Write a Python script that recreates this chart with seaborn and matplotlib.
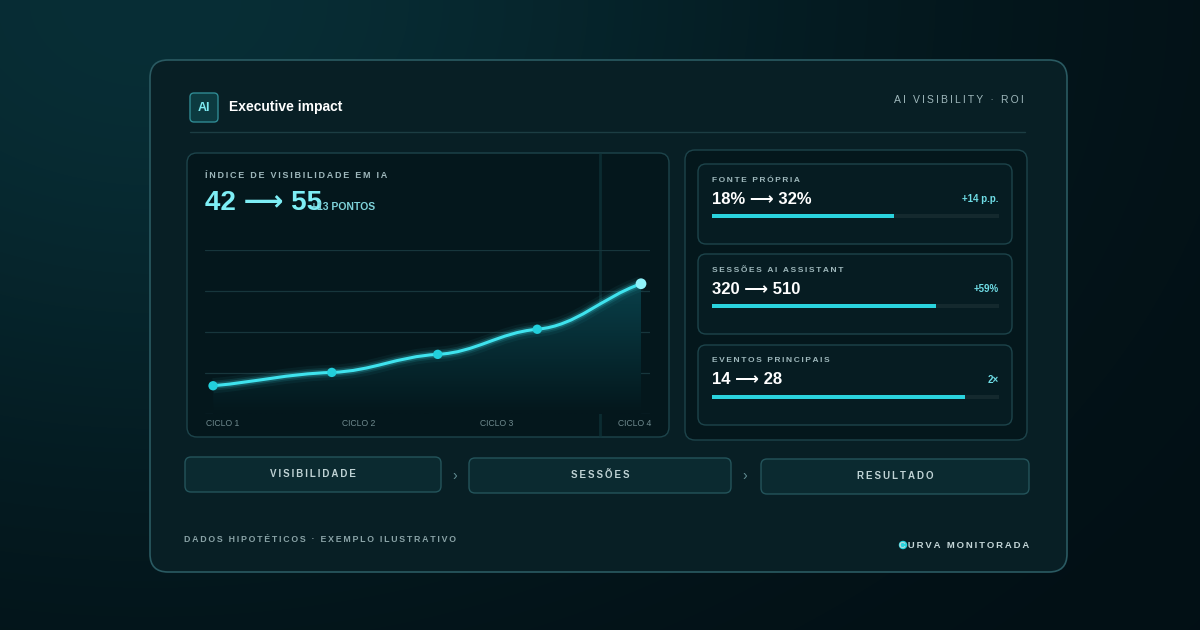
import numpy as np
import matplotlib
matplotlib.use("Agg")
import matplotlib.pyplot as plt
import seaborn as sns
from matplotlib.patches import FancyBboxPatch, Circle
from matplotlib.path import Path
from matplotlib.patches import PathPatch

sns.set_theme(style="dark")
plt.rcParams['font.family'] = ['Liberation Sans', 'DejaVu Sans']

# data
cycle_x = [0, 1.11, 2.1, 3.03, 4]
visibility = [42, 43.7, 46.0, 49.2, 55]
cycle_labels = ["CICLO 1", "CICLO 2", "CICLO 3", "CICLO 4"]
kpi_names = ["FONTE PRÓPRIA", "SESSÕES AI ASSISTANT", "EVENTOS PRINCIPAIS"]
kpi_values = ["18% ⟶ 32%", "320 ⟶ 510", "14 ⟶ 28"]
kpi_deltas = ["+14 p.p.", "+59%", "2×"]
kpi_progress = [0.634, 0.78, 0.88]
steps = ["VISIBILIDADE", "SESSÕES", "RESULTADO"]

CYAN = "#3fe3ee"
TXT = "#9fb8bc"
EDGE = "#1d444b"
ARROWFONT = ['Liberation Sans', 'DejaVu Sans']


def spaced(s):
    return "\u2009".join(s)


fig = plt.figure(figsize=(12, 6.3), dpi=100)
bg = fig.add_axes([0, 0, 1, 1])
bg.set_xlim(0, 1200)
bg.set_ylim(630, 0)
bg.axis("off")

# background gradient
yy, xx = np.mgrid[0:630, 0:1200]
g = np.exp(-(((xx - 150) / 700) ** 2 + ((yy - 0) / 500) ** 2))
img = np.zeros((630, 1200, 3))
img[..., 0] = 0.01 + 0.02 * g
img[..., 1] = 0.06 + 0.12 * g
img[..., 2] = 0.08 + 0.13 * g
bg.imshow(img, extent=[0, 1200, 630, 0], zorder=0)


def box(x0, y0, x1, y1, fc, ec=EDGE, r=10, lw=1.0, z=1):
    p = FancyBboxPatch((x0, y0), x1 - x0, y1 - y0, boxstyle=f"round,pad=0,rounding_size={r}",
                       fc=fc, ec=ec, lw=lw, zorder=z)
    bg.add_patch(p)


box(150, 60, 1067, 572, "#081f25", ec="#2a5a62", r=18, lw=1.2)
box(190, 93, 218, 122, "#0c3a40", ec="#2f8a93", r=4, z=2)
bg.text(204, 108, "AI", color="#7eeaf2", fontsize=9, fontweight="bold", ha="center", va="center", zorder=3)
bg.text(229, 107, "Executive impact", color="white", fontsize=10, fontweight="bold", va="center", zorder=3)
bg.text(1024, 100, spaced("AI VISIBILITY · ROI"), color=TXT, fontsize=7.5, ha="right", va="center", zorder=3)
bg.plot([190, 1025], [132, 132], color="#1c3d43", lw=1, zorder=2)

# chart panel
box(187, 153, 669, 437, "#04171c", z=2)
bg.plot([600, 600], [154, 436], color="#0f343a", lw=2, alpha=0.7, zorder=2)
bg.text(205, 176, spaced("ÍNDICE DE VISIBILIDADE EM IA"), color=TXT, fontsize=6.5, fontweight="bold", va="center", zorder=3)
bg.text(205, 203, "42 ⟶ 55", color="#7eeef5", fontsize=20, fontweight="bold", va="center", zorder=3,
        family=ARROWFONT)
bg.text(311, 207, "+13 PONTOS", color="#7fd3da", fontsize=7.5, fontweight="bold", va="center", zorder=3)
for lab, px in zip(cycle_labels, [206, 342, 480, 618]):
    bg.text(px, 424, lab, color="#6f8a8e", fontsize=6.2, va="center", zorder=3)

ax = fig.add_axes([205 / 1200, (630 - 414) / 630, 445 / 1200, 164 / 630])
ax.set_facecolor("none")
ax.set_xlim(-0.075, 4.084)
ax.set_ylim(38.4, 59.3)
for gy in np.linspace(38.4, 59.3, 5):
    ax.axhline(gy, color="#17363c", lw=0.9, zorder=1)
ax.set_xticks([])
ax.set_yticks([])
for s in ax.spines.values():
    s.set_visible(False)

# smooth bezier through the points, flattened tangents at the points
verts = [(cycle_x[0], visibility[0])]
codes = [Path.MOVETO]
n = len(cycle_x)
def slope(i):
    a, b = max(i - 1, 0), min(i + 1, n - 1)
    k = 0.8 if i in (0, n - 1) else 0.25
    return k * (visibility[b] - visibility[a]) / (cycle_x[b] - cycle_x[a])
for i in range(n - 1):
    x0, y0 = cycle_x[i], visibility[i]
    x1, y1 = cycle_x[i + 1], visibility[i + 1]
    dx = (x1 - x0) / 2.6
    verts += [(x0 + dx, y0 + slope(i) * dx), (x1 - dx, y1 - slope(i + 1) * dx), (x1, y1)]
    codes += [Path.CURVE4] * 3
curve = Path(verts, codes)
fill_path = Path(verts + [(cycle_x[-1], 38.4), (cycle_x[0], 38.4), verts[0]],
                 codes + [Path.LINETO, Path.LINETO, Path.CLOSEPOLY])
grad = np.linspace(0.35, 0.0, 100).reshape(-1, 1)
cmap = matplotlib.colors.LinearSegmentedColormap.from_list("f", ["#04171c", "#0a4a55"])
im = ax.imshow(grad, extent=[-0.075, 4.084, 38.4, 59.3], aspect="auto", cmap=cmap, vmin=0, vmax=0.35, zorder=2)
im.set_clip_path(PathPatch(fill_path, transform=ax.transData))
for lw, a in [(11, 0.05), (7, 0.1), (4.5, 0.2)]:
    ax.add_patch(PathPatch(curve, fc="none", ec=CYAN, lw=lw, alpha=a, zorder=3))
ax.add_patch(PathPatch(curve, fc="none", ec=CYAN, lw=2.2, zorder=4))
sns.scatterplot(x=cycle_x[:-1], y=visibility[:-1], ax=ax, color="#22d0dc", s=45, edgecolor="none", zorder=5)
ax.scatter(cycle_x[-1:], visibility[-1:], color="#8ff3fa", s=60, edgecolor="none", zorder=5)

# right panel
box(685, 150, 1027, 440, "#04171c", z=2)
card_tops = [164, 254, 345]
for i, top in enumerate(card_tops):
    box(698, top, 1012, top + 80, "#061c22", r=8, z=3)
    bg.text(712, top + 16, spaced(kpi_names[i]), color=TXT, fontsize=6, fontweight="bold", va="center", zorder=4)
    bg.text(712, top + 35, kpi_values[i], color="white", fontsize=12, fontweight="bold", va="center", zorder=4,
            family=ARROWFONT)
    bg.text(999, top + 35, kpi_deltas[i], color="#6fdde6", fontsize=7, fontweight="bold", ha="right", va="center", zorder=4)
    bax = fig.add_axes([712 / 1200, (630 - (top + 54)) / 630, 287 / 1200, 4 / 630])
    bax.set_xlim(0, 1)
    bax.set_ylim(-0.5, 0.5)
    bax.add_patch(plt.Rectangle((0, -0.5), 1, 1, color="#14292e", zorder=0))
    sns.barplot(x=[kpi_progress[i]], y=[0], orient="h", ax=bax, color="#2ad3de", width=1,
                saturation=1, edgecolor="none", linewidth=0)
    bax.set_xlim(0, 1)
    bax.set_ylim(-0.5, 0.5)
    bax.axis("off")

# step buttons
for (x0, x1, y0), lab in zip([(185, 441, 457), (469, 731, 458), (761, 1029, 459)], steps):
    box(x0, y0, x1, y0 + 35, "#0b2a30", ec="#24545b", r=6, z=3)
    bg.text((x0 + x1) / 2, y0 + 17, spaced(lab), color="#bfd2d4", fontsize=7, fontweight="bold", ha="center", va="center", zorder=4)
for cx in [455, 745]:
    bg.text(cx, 476, "›", color="#5f8a90", fontsize=10, ha="center", va="center", zorder=4)

bg.text(184, 540, spaced("DADOS HIPOTÉTICOS · EXEMPLO ILUSTRATIVO"), color="#8aa3a7", fontsize=6.3, fontweight="bold", va="center", zorder=4)
bg.add_patch(Circle((903, 545), 3.5, color="#2ad3de", zorder=4))
bg.text(1029, 545, spaced("CURVA MONITORADA"), color="#c4d6d8", fontsize=6.8, fontweight="bold", ha="right", va="center", zorder=4)

fig.savefig("out.png", dpi=100, facecolor="#04161b")
